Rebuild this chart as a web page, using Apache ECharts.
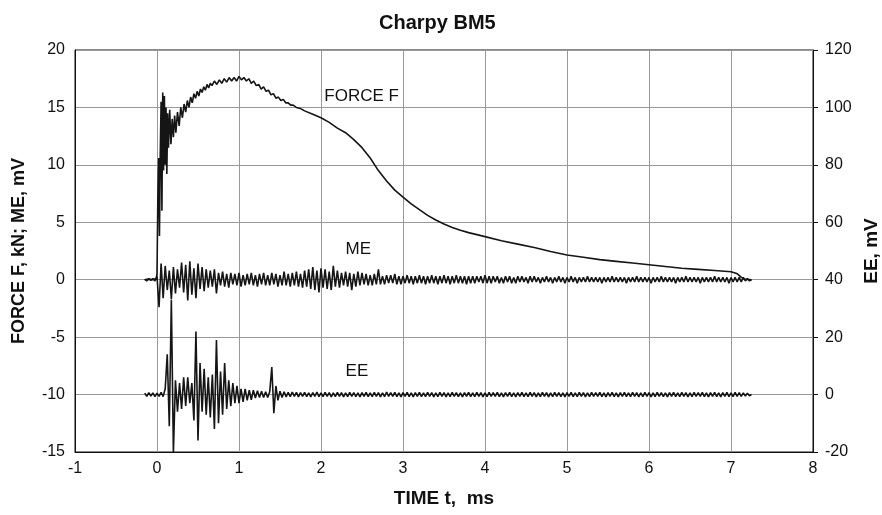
<!DOCTYPE html>
<html>
<head>
<meta charset="utf-8">
<script src="https://cdn.jsdelivr.net/npm/echarts@6/dist/echarts.min.js"></script>
<style>html,body{margin:0;padding:0;background:#fff}#c{width:882px;height:515px}</style>
</head>
<body>
<div id="c"></div>
<script>
// ---- data ----
const titleText = 'Charpy BM5';
const xTicks = { min: -1, max: 8, step: 1 };
const yLeftTicks = { min: -15, max: 20, step: 5 };
const yRightTicks = { min: -20, max: 120, step: 20 };

// FORCE F, kN : [time ms, value]
const forceF = [
[-0.15,0.0],[-0.1,0.05],[-0.05,0.0],[-0.01,0.1],[0.0,0.5],[0.01,7.0],[0.02,10.6],[0.03,3.8],[0.04,11.0],[0.05,15.5],
[0.06,6.0],[0.07,16.3],[0.08,9.5],[0.09,16.0],[0.1,10.0],[0.11,15.0],[0.12,9.2],[0.13,14.5],[0.14,11.5],[0.155,14.8],
[0.17,11.8],[0.185,14.0],[0.2,12.4],[0.215,14.3],[0.23,12.8],[0.25,14.6],[0.27,13.4],[0.29,15.0],[0.31,14.1],[0.33,15.3],
[0.35,14.6],[0.37,15.6],[0.39,15.0],[0.41,15.9],[0.43,15.4],[0.45,16.2],[0.47,15.8],[0.49,16.4],[0.51,16.0],[0.53,16.6],
[0.55,16.3],[0.57,16.8],[0.59,16.5],[0.61,17.0],[0.63,16.7],[0.65,17.1],[0.67,16.9],[0.7,17.3],[0.73,17.0],[0.76,17.4],
[0.79,17.1],[0.82,17.5],[0.85,17.2],[0.88,17.6],[0.91,17.3],[0.94,17.6],[0.97,17.3],[1.0,17.7],[1.03,17.4],[1.06,17.6],
[1.09,17.3],[1.12,17.5],[1.15,17.1],[1.18,17.3],[1.21,16.9],[1.24,17.0],[1.27,16.6],[1.3,16.8],[1.33,16.4],[1.36,16.5],
[1.39,16.1],[1.42,16.2],[1.45,15.8],[1.48,15.9],[1.51,15.6],[1.54,15.7],[1.57,15.4],[1.6,15.4],[1.63,15.2],[1.66,15.2],
[1.7,15.0],[1.75,14.9],[1.8,14.7],[1.9,14.4],[2.0,14.1],[2.1,13.7],[2.2,13.2],[2.3,12.8],[2.4,12.2],[2.5,11.5],
[2.6,10.6],[2.7,9.5],[2.8,8.6],[2.9,7.8],[3.0,7.2],[3.1,6.6],[3.2,6.1],[3.3,5.6],[3.4,5.2],[3.5,4.85],
[3.6,4.55],[3.7,4.3],[3.8,4.1],[4.0,3.75],[4.2,3.4],[4.4,3.1],[4.6,2.8],[4.8,2.45],[5.0,2.15],[5.2,1.95],[5.4,1.75],
[5.6,1.6],[5.8,1.45],[6.0,1.3],[6.2,1.15],[6.4,1.0],[6.6,0.9],[6.8,0.8],[7.0,0.7],[7.07,0.55],[7.12,0.25],
[7.16,0.05],[7.25,0.0]
];

// ME, mV (left axis) and EE, mV (right axis), sampled every 0.025 ms from -0.15 ms
const sampleStart = -0.15;
const sampleStep = 0.025;
const meValues = [
0.05,-0.1,0.1,-0.05,0.1,-0.1,0.3,-2.4,1.4,-1.6,
1.2,-0.9,0.8,-1.7,1.1,-1.2,0.9,-0.7,1.5,-1.1,
1.3,-1.8,1.6,-1.3,1.0,-1.6,1.4,-0.8,1.1,-1.0,
0.9,-0.7,0.8,-0.6,0.9,-1.2,0.6,-0.5,0.7,-0.6,
0.5,-0.7,0.6,-0.4,0.5,-0.5,0.6,-0.6,0.4,-0.5,
0.5,-0.4,0.6,-0.5,0.4,-0.6,0.5,-0.4,0.6,-0.5,
0.4,-0.5,0.6,-0.4,0.5,-0.6,0.4,-0.5,0.7,-0.5,
0.5,-0.6,0.6,-0.5,0.7,-0.6,0.5,-0.7,0.8,-0.6,
0.9,-0.8,1.1,-0.9,0.8,-1.1,1.0,-0.7,0.9,-0.8,
0.7,-0.9,1.2,-0.6,0.8,-0.7,0.6,-0.5,0.7,-0.6,
0.6,-0.9,0.5,-0.6,0.7,-0.5,0.6,-0.4,0.5,-0.5,
0.4,-0.5,0.5,-0.4,0.9,-0.4,0.3,-0.4,0.4,-0.3,
0.4,-0.3,0.5,-0.4,0.3,-0.4,0.3,-0.3,0.4,-0.3,
0.3,-0.4,0.3,-0.3,0.4,-0.3,0.3,-0.4,0.3,-0.3,
0.4,-0.3,0.3,-0.4,0.3,-0.3,0.4,-0.3,0.3,-0.4,
0.3,-0.3,0.4,-0.3,0.3,-0.3,0.3,-0.4,0.3,-0.3,
0.3,-0.3,0.3,-0.2,0.3,-0.3,0.4,-0.3,0.3,-0.3,
0.3,-0.2,0.3,-0.3,0.2,-0.3,0.3,-0.2,0.3,-0.3,
0.2,-0.3,0.3,-0.2,0.3,-0.2,0.2,-0.3,0.3,-0.2,
0.3,-0.2,0.2,-0.3,0.2,-0.2,0.3,-0.2,0.2,-0.3,
0.2,-0.2,0.3,-0.2,0.2,-0.3,0.2,-0.2,0.3,-0.2,
0.2,-0.3,0.2,-0.2,0.2,-0.2,0.3,-0.2,0.2,-0.2,
0.2,-0.2,0.2,-0.3,0.2,-0.2,0.2,-0.2,0.3,-0.2,
0.2,-0.2,0.2,-0.2,0.2,-0.3,0.2,-0.2,0.2,-0.2,
0.3,-0.2,0.2,-0.2,0.2,-0.2,0.2,-0.3,0.2,-0.2,
0.2,-0.2,0.3,-0.2,0.2,-0.2,0.2,-0.2,0.2,-0.3,
0.2,-0.2,0.2,-0.2,0.3,-0.2,0.2,-0.2,0.2,-0.2,
0.2,-0.3,0.2,-0.2,0.2,-0.2,0.2,-0.2,0.3,-0.2,
0.2,-0.2,0.2,-0.2,0.2,-0.3,0.2,-0.2,0.2,-0.2,
0.2,-0.2,0.2,-0.1,0.1,-0.1,0.0
];
const eeValues = [
0.5,-0.6,0.7,-0.5,0.6,-0.7,0.5,-0.6,0.8,-0.7,
2,14,-11,33,-20,5,-6,4,-5,6,
-4,6,-3,4,-9,22,-16,11,-6,9,
-7,6,-8,7,-12,19,-10,8,-7,11,
-5,5,-4,4,-3,3,-3,2,-2.5,2,
-2,1.5,-1.8,1.5,-1.2,1.3,-1,1.2,-1,1,
-1,1,9.6,-6.5,3,-2,1.2,-1,1,-0.8,
0.8,-0.7,0.9,-0.6,0.8,-0.8,0.7,-0.6,0.8,-0.7,
0.6,-0.8,0.7,-0.6,0.9,-0.7,0.6,-0.7,0.8,-0.6,
0.7,-0.8,0.6,-0.7,0.8,-0.6,0.7,-0.8,0.6,-0.7,
0.8,-0.6,0.7,-0.7,0.6,-0.8,0.7,-0.6,0.8,-0.7,
0.6,-0.7,0.8,-0.6,0.7,-0.8,0.6,-0.7,0.9,-0.6,
0.7,-0.6,0.8,-0.7,0.6,-0.8,0.7,-0.6,0.8,-0.7,
0.6,-0.8,0.7,-0.6,0.8,-0.7,0.6,-0.7,0.8,-0.6,
0.7,-0.8,0.6,-0.7,0.8,-0.6,0.7,-0.8,0.6,-0.7,
0.8,-0.6,0.7,-0.7,0.6,-0.8,0.7,-0.6,0.8,-0.7,
0.6,-0.7,0.8,-0.6,0.7,-0.8,0.6,-0.7,0.8,-0.6,
0.7,-0.6,0.8,-0.7,0.6,-0.8,0.7,-0.6,0.8,-0.7,
0.6,-0.8,0.7,-0.6,0.8,-0.7,0.6,-0.7,0.8,-0.6,
0.7,-0.8,0.6,-0.7,0.8,-0.6,0.7,-0.8,0.6,-0.7,
0.8,-0.6,0.7,-0.7,0.6,-0.8,0.7,-0.6,0.8,-0.7,
0.6,-0.7,0.8,-0.6,0.7,-0.8,0.6,-0.7,0.8,-0.6,
0.7,-0.6,0.8,-0.7,0.6,-0.8,0.7,-0.6,0.8,-0.7,
0.6,-0.8,0.7,-0.6,0.8,-0.7,0.6,-0.7,0.8,-0.6,
0.7,-0.8,0.6,-0.7,0.8,-0.6,0.7,-0.8,0.6,-0.7,
0.8,-0.6,0.7,-0.7,0.6,-0.8,0.7,-0.6,0.8,-0.7,
0.6,-0.7,0.8,-0.6,0.7,-0.8,0.6,-0.7,0.8,-0.6,
0.7,-0.6,0.8,-0.7,0.6,-0.8,0.7,-0.6,0.8,-0.7,
0.6,-0.8,0.7,-0.6,0.8,-0.7,0.6,-0.7,0.8,-0.6,
0.7,-0.6,0.6,-0.5,0.5,-0.4,0.0
];

// in-plot labels: [text, time, left-axis value]
const annotations = [
['FORCE F', 2.04, 16.0],
['ME', 2.30, 2.65],
['EE', 2.30, -8.0]
];

// ---- chart ----
const FONT = '"Liberation Sans", Arial, sans-serif';
const toPairs = vals => vals.map((v, i) => [+(sampleStart + i * sampleStep).toFixed(3), v]);

const chart = echarts.init(document.getElementById('c'), null, { renderer: 'canvas' });
const lineStyle = { color: '#151515', width: 1.6 };
const tickFont = { fontFamily: FONT, fontSize: 16, color: '#111' };
chart.setOption({
  animation: false,
  backgroundColor: '#fff',
  title: {
    text: titleText, left: 374, top: 8,
    textStyle: { fontFamily: FONT, fontSize: 20, fontWeight: 'bold', color: '#111' }
  },
  grid: {
    left: 75, right: 69, top: 50, bottom: 63, containLabel: false, outerBoundsMode: 'none',
    show: true, borderColor: '#111', borderWidth: 1
  },
  xAxis: {
    type: 'value', min: xTicks.min, max: xTicks.max, interval: xTicks.step,
    name: 'TIME t,  ms', nameLocation: 'middle', nameGap: 37,
    nameTextStyle: { fontFamily: FONT, fontSize: 19, fontWeight: 'bold', color: '#111' },
    axisLine: { show: true, onZero: false, lineStyle: { color: '#111', width: 1 } },
    axisTick: { show: false },
    axisLabel: Object.assign({ margin: 9 }, tickFont),
    splitLine: { show: true, lineStyle: { color: '#999', width: 1 } }
  },
  yAxis: [
    {
      type: 'value', min: yLeftTicks.min, max: yLeftTicks.max, interval: yLeftTicks.step,
      name: 'FORCE F, kN; ME, mV', nameLocation: 'middle', nameGap: 47, nameRotate: 90,
      nameTextStyle: { fontFamily: FONT, fontSize: 18, fontWeight: 'bold', color: '#111' },
      axisLine: { show: true, onZero: false, lineStyle: { color: '#111', width: 1 } },
      axisTick: { show: false },
      axisLabel: Object.assign({ margin: 10 }, tickFont),
      splitLine: { show: true, lineStyle: { color: '#999', width: 1 } }
    },
    {
      type: 'value', position: 'right', min: yRightTicks.min, max: yRightTicks.max, interval: yRightTicks.step,
      name: 'EE, mV', nameLocation: 'middle', nameGap: 48, nameRotate: 90,
      nameTextStyle: { fontFamily: FONT, fontSize: 19, fontWeight: 'bold', color: '#111' },
      axisLine: { show: true, onZero: false, lineStyle: { color: '#111', width: 1 } },
      axisTick: { show: true, inside: false, length: 5, lineStyle: { color: '#111' } },
      axisLabel: Object.assign({ margin: 12 }, tickFont),
      splitLine: { show: false }
    }
  ],
  series: [
    { name: 'FORCE F', type: 'line', yAxisIndex: 0, data: forceF, showSymbol: false, lineStyle, z: 3 },
    { name: 'ME', type: 'line', yAxisIndex: 0, data: toPairs(meValues), showSymbol: false, lineStyle, z: 3 },
    { name: 'EE', type: 'line', yAxisIndex: 1, data: toPairs(eeValues), showSymbol: false, lineStyle, z: 3 }
  ]
});

chart.setOption({
  graphic: annotations.map(([text, t, v]) => {
    const p = chart.convertToPixel({ xAxisIndex: 0, yAxisIndex: 0 }, [t, v]);
    return {
      type: 'text', x: p[0], y: p[1], z: 10,
      style: { text, fontFamily: FONT, fontSize: 17, fill: '#111', align: 'left', verticalAlign: 'middle' }
    };
  })
});
</script>
</body>
</html>
